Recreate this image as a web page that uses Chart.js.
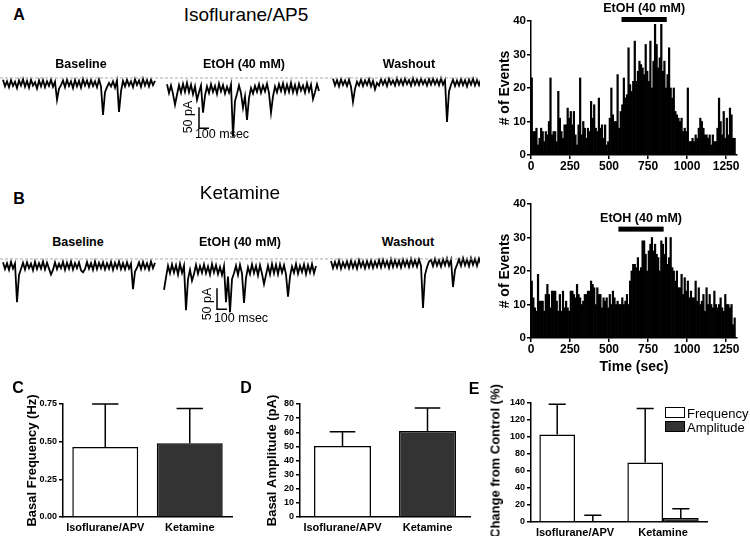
<!DOCTYPE html>
<html>
<head>
<meta charset="utf-8">
<script src="https://cdn.jsdelivr.net/npm/chart.js@4.4.1/dist/chart.umd.min.js"></script>
<style>
body { margin: 0; background: #fff; }
#fig { position: relative; width: 750px; height: 536px; overflow: hidden; font-family: "Liberation Sans", Arial, sans-serif; color: #000; }
canvas { position: absolute; }
.t { position: absolute; white-space: nowrap; line-height: 1; transform: translate(-50%, -50%); }
.panel { font-size: 16px; font-weight: bold; }
.lab { font-size: 12.5px; font-weight: bold; }
.rot { transform: translate(-50%, -50%) rotate(-90deg); }
.box { position: absolute; width: 18px; height: 9px; border: 1px solid #000; }
</style>
</head>
<body>
<div id="fig">
  <canvas id="traceA" width="480" height="70" style="left:0;top:70px"></canvas>
  <canvas id="traceB" width="480" height="70" style="left:0;top:251px"></canvas>
  <canvas id="histA" width="252" height="175" style="left:493px;top:0"></canvas>
  <canvas id="histB" width="252" height="195" style="left:493px;top:185px"></canvas>
  <canvas id="freqC" width="215" height="146" style="left:21px;top:390px"></canvas>
  <canvas id="ampD" width="213" height="146" style="left:261px;top:390px"></canvas>
  <canvas id="changeE" width="228" height="162" style="left:483px;top:390px"></canvas>

  <div class="t panel" style="left:19px;top:15px">A</div>
  <div class="t" style="left:246px;top:14px;font-size:19px">Isoflurane/AP5</div>
  <div class="t lab" style="left:81px;top:64px">Baseline</div>
  <div class="t lab" style="left:244px;top:64px">EtOH (40 mM)</div>
  <div class="t lab" style="left:409px;top:64px">Washout</div>
  <div class="t rot" style="left:188px;top:117px;font-size:12.5px">50 pA</div>
  <div class="t" style="left:222px;top:134px;font-size:12.5px">100 msec</div>

  <div class="t panel" style="left:19px;top:199px">B</div>
  <div class="t" style="left:240px;top:192px;font-size:19px">Ketamine</div>
  <div class="t lab" style="left:78px;top:242px">Baseline</div>
  <div class="t lab" style="left:240px;top:242px">EtOH (40 mM)</div>
  <div class="t lab" style="left:408px;top:242px">Washout</div>
  <div class="t rot" style="left:207px;top:304px;font-size:12.5px">50 pA</div>
  <div class="t" style="left:241px;top:318px;font-size:12.5px">100 msec</div>

  <div class="t panel" style="left:18px;top:388px">C</div>
  <div class="t panel" style="left:246px;top:388px">D</div>
  <div class="t panel" style="left:474px;top:389px">E</div>
  <div class="t rot" style="left:495px;top:461px;font-size:13px;font-weight:bold">Change from Control (%)</div>

  <div id="legendE"></div>
</div>

<script>
// histogram data (events per 10 s bin)
const histBinSec = 10;
const histTicks = [0, 250, 500, 750, 1000, 1250];
const histCountsIso = [
  23, 7, 7, 8, 3, 5, 8, 7, 4, 7,
  6, 10, 23, 6, 7, 7, 4, 19, 11, 7,
  5, 9, 9, 14, 11, 13, 9, 13, 6, 3,
  9, 23, 6, 10, 8, 5, 8, 7, 16, 11,
  15, 8, 7, 17, 8, 9, 5, 9, 3, 4,
  11, 20, 12, 10, 10, 24, 8, 13, 15, 23,
  17, 18, 32, 21, 19, 22, 34, 22, 25, 28,
  27, 26, 24, 33, 25, 22, 34, 20, 28, 39,
  33, 26, 29, 39, 25, 28, 20, 24, 32, 20,
  17, 20, 13, 12, 11, 10, 11, 7, 8, 7,
  20, 4, 4, 5, 4, 6, 5, 8, 11, 10,
  8, 6, 6, 5, 6, 3, 6, 4, 4, 8,
  17, 10, 6, 13, 5, 11, 6, 14, 12, 5,
  5
];
const histCountsKet = [
  17, 12, 9, 8, 19, 11, 11, 11, 8, 13,
  16, 13, 9, 14, 14, 14, 11, 8, 13, 8,
  14, 9, 11, 9, 8, 14, 14, 13, 12, 16,
  13, 12, 10, 11, 13, 13, 14, 14, 17, 16,
  15, 10, 15, 13, 13, 9, 12, 11, 12, 9,
  13, 10, 14, 12, 10, 11, 10, 10, 12, 10,
  11, 13, 10, 17, 20, 22, 22, 21, 24, 20,
  21, 29, 29, 25, 20, 26, 28, 30, 26, 28,
  25, 24, 20, 29, 28, 25, 30, 22, 24, 30,
  21, 20, 17, 20, 15, 15, 19, 13, 18, 14,
  17, 12, 14, 12, 12, 17, 11, 15, 10, 11,
  13, 8, 15, 10, 13, 10, 9, 14, 10, 9,
  10, 12, 9, 8, 13, 10, 10, 9, 10, 4,
  6
];
const etohIso = { start: 580, end: 870, level: 40.45 };
const etohKet = { start: 560, end: 850, level: 32.5 };

// current traces (pA), one sample every 20 ms
const traceDtMs = 20;
const isoBaseline = [
  -4, -20, -8, -22, -5, -19, -9, -24, -6, -18,
  -3, -21, -7, -23, -4, -18, -10, -25, -6, -20,
  -5, -22, -8, -19, -4, -21, -9, -52, -26, -17,
  -6, -22, -4, -19, -8, -24, -5, -20, -7, -23,
  -3, -18, -6, -21, -5, -19, -8, -22, -4, -20,
  -88, -34, -22, -12, -20, -8, -23, -6, -81, -32,
  -7, -20, -4, -18, -8, -22, -3, -17, -6, -21,
  -2, -18, -5, -20, -4, -17, -7
];
const isoEtoh = [
  -15, -36, -18, -38, -64, -40, -17, -35, -14, -33,
  -12, -34, -16, -39, -20, -52, -34, -18, -83, -42,
  -20, -36, -15, -33, -19, -38, -14, -32, -17, -37,
  -21, -35, -16, -140, -55, -38, -18, -36, -71, -44,
  -100, -48, -24, -37, -19, -33, -15, -35, -18, -32,
  -14, -36, -83, -44, -20, -34, -15, -31, -13, -35,
  -16, -33, -12, -34, -17, -36, -14, -30, -18, -35,
  -13, -32, -16, -50, -34, -15, -31
];
const isoWashout = [
  -2, -18, -5, -20, -3, -17, -6, -19, -4, -21,
  -57, -26, -9, -18, -4, -19, -6, -17, -3, -20,
  -7, -27, -12, -18, -3, -16, -5, -19, -2, -15,
  -6, -18, -1, -16, -4, -17, -2, -15, -5, -18,
  -1, -16, -4, -17, -2, -15, -5, -18, -3, -16,
  -2, -15, -4, -17, -1, -16, -5, -105, -32, -16,
  -4, -19, -6, -18, -3, -17, -5, -20, -4, -16,
  -2, -18, -5, -17, -3, -19, -6
];
const ketBaseline = [
  -8, -24, -10, -26, -7, -23, -11, -103, -38, -24,
  -9, -25, -8, -22, -11, -27, -7, -24, -10, -23,
  -6, -25, -9, -23, -37, -26, -8, -24, -11, -22,
  -7, -26, -9, -23, -6, -25, -10, -22, -8, -27,
  -32, -24, -7, -23, -10, -26, -6, -24, -9, -22,
  -8, -25, -10, -23, -7, -26, -9, -22, -6, -24,
  -10, -25, -8, -23, -11, -72, -30, -21, -8, -24,
  -7, -23, -10, -25, -6, -22, -9
];
const ketEtoh = [
  -74, -44, -16, -34, -13, -32, -15, -37, -12, -33,
  -16, -122, -48, -26, -52, -36, -14, -35, -17, -33,
  -13, -34, -18, -37, -12, -32, -15, -36, -19, -38,
  -17, -103, -42, -127, -48, -34, -16, -38, -14, -35,
  -105, -45, -20, -36, -13, -34, -17, -39, -15, -35,
  -60, -38, -16, -37, -12, -34, -14, -36, -13, -32,
  -15, -37, -90, -42, -18, -33, -12, -35, -16, -31,
  -13, -36, -15, -32, -12, -34, -17
];
const ketWashout = [
  -5, -22, -7, -21, -4, -23, -8, -20, -6, -22,
  -4, -21, -7, -23, -3, -19, -6, -22, -5, -20,
  -4, -21, -6, -19, -3, -20, -2, -18, -5, -21,
  -1, -19, -3, -18, -4, -20, -2, -17, -3, -19,
  0, -17, -3, -18, -1, -16, -117, -38, -20, -6,
  -2, -17, 0, -16, -3, -18, -1, -15, 1, -16,
  -2, -67, -26, -14, -1, -16, 2, -15, -1, -17,
  2, -14, 0, -16, 1, -13, -1
];
const scaleBarPA = 50;
const scaleBarMs = 100;

// group summaries (mean and SEM)
const groups = ['Isoflurane/APV', 'Ketamine'];
const freqTicks = [0, 0.25, 0.5, 0.75];
const freqMean = [0.465, 0.49];
const freqSem = [0.285, 0.23];
const ampTicks = [0, 10, 20, 30, 40, 50, 60, 70, 80];
const ampMean = [50.3, 60.9];
const ampSem = [10, 16.3];
const changeTicks = [0, 20, 40, 60, 80, 100, 120, 140];
const changeFreqMean = [103, 70];
const changeFreqSem = [35.5, 63.5];
const changeAmpMean = [1, 4.7];
const changeAmpSem = [7, 11];

Chart.defaults.font.family = '"Liberation Sans", Arial, sans-serif';
Chart.defaults.color = '#000';
Chart.defaults.animation = false;

const ink = '#000';
const darkBar = '#333333';

// trace rows
function segment(values, startMs) {
  return values.map((v, k) => ({ x: startMs + k * traceDtMs, y: v }));
}

function traceChart(id, segs, starts, barAt) {
  const datasets = [{
    data: [{ x: 0, y: 0 }, { x: 4800, y: 0 }],
    borderColor: '#aaaaaa', borderDash: [3, 2], borderWidth: 1
  }];
  segs.forEach((s, i) => {
    datasets.push({ data: segment(s, starts[i]), borderColor: ink, borderWidth: 1.8 });
  });
  datasets.push({
    data: [
      { x: barAt.x, y: barAt.y + scaleBarPA },
      { x: barAt.x, y: barAt.y },
      { x: barAt.x + scaleBarMs, y: barAt.y }
    ],
    borderColor: ink, borderWidth: 1.5
  });
  new Chart(document.getElementById(id), {
    type: 'line',
    data: { datasets: datasets },
    options: {
      responsive: false,
      elements: { point: { radius: 0 }, line: { tension: 0 } },
      plugins: { legend: { display: false }, tooltip: { enabled: false } },
      scales: {
        x: { type: 'linear', display: false, min: 0, max: 4800 },
        y: { display: false, min: -148, max: 19 }
      }
    }
  });
}

traceChart('traceA', [isoBaseline, isoEtoh, isoWashout], [30, 1670, 3330], { x: 1990, y: -120 });
traceChart('traceB', [ketBaseline, ketEtoh, ketWashout], [30, 1640, 3310], { x: 2170, y: -120 });

// EtOH application bar above histograms
const etohBar = {
  id: 'etohBar',
  afterDraw(chart, args, opts) {
    const ctx = chart.ctx;
    const xs = chart.scales.x, ys = chart.scales.y;
    const x1 = xs.getPixelForValue(opts.start);
    const x2 = xs.getPixelForValue(opts.end);
    const y = ys.getPixelForValue(opts.level);
    ctx.save();
    ctx.fillStyle = ink;
    ctx.fillRect(x1, y - 2.5, x2 - x1, 5);
    ctx.font = 'bold 12.5px "Liberation Sans", Arial, sans-serif';
    ctx.textAlign = 'center';
    ctx.textBaseline = 'middle';
    ctx.fillText('EtOH (40 mM)', (x1 + x2) / 2, y - 11);
    ctx.restore();
  }
};

function histChart(id, counts, etoh, padTop, xAxisH, showTitle) {
  new Chart(document.getElementById(id), {
    type: 'bar',
    data: {
      datasets: [{
        data: counts.map((c, i) => ({ x: i * histBinSec + histBinSec / 2, y: c })),
        backgroundColor: ink,
        barPercentage: 1,
        categoryPercentage: 1
      }]
    },
    options: {
      responsive: false,
      layout: { padding: { top: padTop, right: 8 } },
      plugins: { legend: { display: false }, tooltip: { enabled: false }, etohBar: etoh },
      scales: {
        x: {
          type: 'linear', min: 0, max: 1320, offset: false,
          afterBuildTicks: s => { s.ticks = histTicks.map(v => ({ value: v })); },
          afterFit: s => { s.height = xAxisH; },
          grid: { display: true, offset: false, drawOnChartArea: false, color: ink, lineWidth: 1.5, tickLength: 4 },
          border: { color: ink, width: 1.5 },
          ticks: { font: { size: 12, weight: 'bold' }, padding: 0, maxRotation: 0, callback: v => String(v) },
          title: { display: showTitle, text: 'Time (sec)', font: { size: 14, weight: 'bold' } }
        },
        y: {
          min: 0, max: 40,
          ticks: { stepSize: 10, font: { size: 11.5, weight: 'bold' }, padding: 1 },
          afterFit: s => { s.width = 38; },
          grid: { drawOnChartArea: false, color: ink, lineWidth: 1.5, tickLength: 4 },
          border: { color: ink, width: 1.5 },
          title: { display: true, text: '# of Events', font: { size: 14, weight: 'bold' } }
        }
      }
    },
    plugins: [etohBar]
  });
}

histChart('histA', histCountsIso, etohIso, 21, 20, false);
histChart('histB', histCountsKet, etohKet, 19, 42, true);

// upper error bars from dataset.sem
const errorBars = {
  id: 'errorBars',
  afterDatasetsDraw(chart, args, opts) {
    const ctx = chart.ctx;
    const ys = chart.scales.y;
    ctx.save();
    ctx.strokeStyle = ink;
    ctx.lineWidth = 1.5;
    chart.data.datasets.forEach((ds, di) => {
      chart.getDatasetMeta(di).data.forEach((bar, i) => {
        const top = ys.getPixelForValue(ds.data[i] + ds.sem[i]);
        const half = bar.width * opts.cap / 2;
        ctx.beginPath();
        ctx.moveTo(bar.x, bar.y);
        ctx.lineTo(bar.x, top);
        ctx.moveTo(bar.x - half, top);
        ctx.lineTo(bar.x + half, top);
        ctx.stroke();
      });
    });
    ctx.restore();
  }
};

function groupChart(id, datasets, ticks, yTitle, yAxisW, xAxisH, padTop, catPct, cap, fmt) {
  new Chart(document.getElementById(id), {
    type: 'bar',
    data: { labels: groups, datasets: datasets },
    options: {
      responsive: false,
      layout: { padding: { top: padTop, right: 4 } },
      datasets: { bar: { categoryPercentage: catPct } },
      plugins: { legend: { display: false }, tooltip: { enabled: false }, errorBars: { cap: cap } },
      scales: {
        x: {
          afterFit: s => { s.height = xAxisH; },
          grid: { display: false, drawTicks: false },
          border: { color: ink, width: 1.5 },
          ticks: { font: { size: 11, weight: 'bold' }, padding: 4, maxRotation: 0 }
        },
        y: {
          min: 0, max: ticks[ticks.length - 1],
          afterBuildTicks: s => { s.ticks = ticks.map(v => ({ value: v })); },
          afterFit: s => { s.width = yAxisW; },
          grid: { drawOnChartArea: false, color: ink, lineWidth: 1.5, tickLength: 4 },
          border: { color: ink, width: 1.5 },
          ticks: { font: { size: 9, weight: 'bold' }, padding: 2, callback: fmt },
          title: { display: yTitle !== '', text: yTitle, font: { size: 13, weight: 'bold' } }
        }
      }
    },
    plugins: [errorBars]
  });
}

groupChart('freqC', [{
  data: freqMean, sem: freqSem,
  backgroundColor: ['#ffffff', darkBar], borderColor: ink, borderWidth: 1.5, barPercentage: 0.78
}], freqTicks, 'Basal Frequency (Hz)', 42, 19, 14, 1, 0.4, v => v.toFixed(2));

groupChart('ampD', [{
  data: ampMean, sem: ampSem,
  backgroundColor: ['#ffffff', darkBar], borderColor: ink, borderWidth: 1.5, barPercentage: 0.67
}], ampTicks, 'Basal Amplitude (pA)', 39, 19, 14, 1, 0.45, v => v);

// panel E title is an HTML label: it is longer than the axis and runs off the figure
groupChart('changeE', [
  { label: 'Frequency', data: changeFreqMean, sem: changeFreqSem,
    backgroundColor: '#ffffff', borderColor: ink, borderWidth: 1.5, barPercentage: 1 },
  { label: 'Amplitude', data: changeAmpMean, sem: changeAmpSem,
    backgroundColor: darkBar, borderColor: ink, borderWidth: 1.5, barPercentage: 1 }
], changeTicks, '', 48, 30, 13, 0.81, 0.48, v => v);

// legend for panel E
const legendItems = [
  { text: 'Frequency', fill: '#ffffff', top: 407 },
  { text: 'Amplitude', fill: darkBar, top: 421 }
];
const legendEl = document.getElementById('legendE');
legendItems.forEach(item => {
  const box = document.createElement('div');
  box.className = 'box';
  box.style.left = '665px';
  box.style.top = item.top + 'px';
  box.style.background = item.fill;
  legendEl.appendChild(box);
  const label = document.createElement('div');
  label.className = 't';
  label.style.fontSize = '13px';
  label.style.left = '687px';
  label.style.top = (item.top + 5.5) + 'px';
  label.style.transform = 'translate(0, -50%)';
  label.textContent = item.text;
  legendEl.appendChild(label);
});
</script>
</body>
</html>
